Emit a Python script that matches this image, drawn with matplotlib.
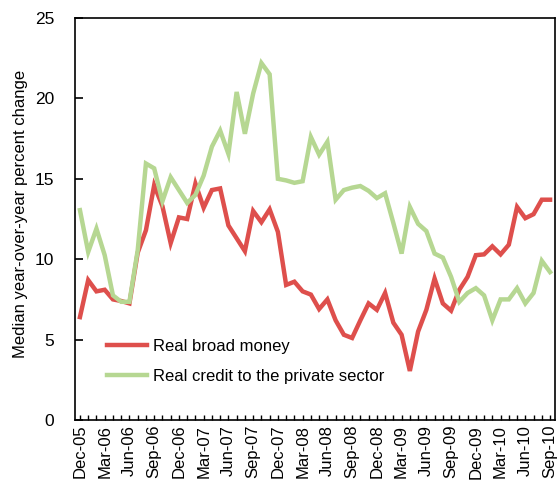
import matplotlib
matplotlib.use("Agg")
import matplotlib.pyplot as plt
from matplotlib.ticker import MultipleLocator, FixedLocator
import numpy as np

months = ["Dec-05"] + [f"{m}-{y:02d}" for y in range(6, 11)
                       for m in ["Jan", "Feb", "Mar", "Apr", "May", "Jun",
                                 "Jul", "Aug", "Sep", "Oct", "Nov", "Dec"]]
months = months[:58]

broad_money = [6.4, 8.7, 8.0, 8.1, 7.5, 7.4, 7.25, 10.4, 11.8, 14.6, 13.3, 11.0,
               12.6, 12.5, 14.7, 13.2, 14.3, 14.4, 12.1, 11.3, 10.5, 13.0, 12.3, 13.1,
               11.7, 8.4, 8.6, 8.0, 7.8, 6.9, 7.5, 6.2, 5.3, 5.1, 6.2, 7.25,
               6.85, 7.9, 6.05, 5.3, 3.05, 5.5, 6.85, 8.8, 7.25, 6.8, 8.1, 8.9,
               10.25, 10.3, 10.8, 10.3, 10.9, 13.25, 12.55, 12.8, 13.7, 13.7]

private_credit = [13.05, 10.45, 11.9, 10.25, 7.75, 7.35, 7.35, 10.55, 15.95, 15.65, 13.6, 15.1,
                  14.3, 13.5, 14.0, 15.2, 17.0, 18.0, 16.55, 20.4, 17.8, 20.3, 22.2, 21.5,
                  15.0, 14.9, 14.75, 14.85, 17.6, 16.5, 17.3, 13.7, 14.3, 14.45, 14.55, 14.25,
                  13.8, 14.1, 12.25, 10.35, 13.25, 12.2, 11.75, 10.35, 10.1, 8.9, 7.35, 7.9,
                  8.2, 7.75, 6.2, 7.5, 7.5, 8.2, 7.25, 7.9, 9.9, 9.2]

series_names = ["Real broad money", "Real credit to the private sector"]
tick_labels = months[::3]

plt.rcParams['font.family'] = ['Liberation Sans', 'DejaVu Sans']

fig = plt.figure(figsize=(5.6, 4.8), dpi=100)
ax = fig.add_axes([75/560, 60/480, 480/560, 402/480])

x = np.arange(len(months))
ax.plot(x, broad_money, color='#DE4F4C', lw=3.2, label=series_names[0],
        solid_joinstyle='miter')
ax.plot(x, private_credit, color='#B6D792', lw=3.2, label=series_names[1],
        solid_joinstyle='miter')

ax.set_xlim(-0.6, len(months) - 1 + 0.6)
ax.set_ylim(0, 25)
ax.yaxis.set_major_locator(MultipleLocator(5))
ax.xaxis.set_major_locator(FixedLocator(x[::3]))
ax.xaxis.set_minor_locator(FixedLocator(x))
ax.set_xticklabels(tick_labels, rotation=90, fontsize=12)

for s in ax.spines.values():
    s.set_linewidth(1.2)
ax.tick_params(axis='y', direction='in', length=6, width=1.2, pad=15, labelsize=12.5,
               left=True, right=False)
ax.tick_params(axis='x', which='both', direction='in', length=3.5, width=1.0, pad=3.5,
               top=False)

ax.set_ylabel("Median year-over-year percent change", fontsize=12)
ax.yaxis.set_label_coords(-0.098, 0.512)

leg = ax.legend(loc='upper left', bbox_to_anchor=(0.0667, 0.2015), frameon=False,
                fontsize=12, handlelength=2.4, handletextpad=0.36, labelspacing=0.88,
                borderpad=0, borderaxespad=0)

fig.savefig("out.png", dpi=100)
